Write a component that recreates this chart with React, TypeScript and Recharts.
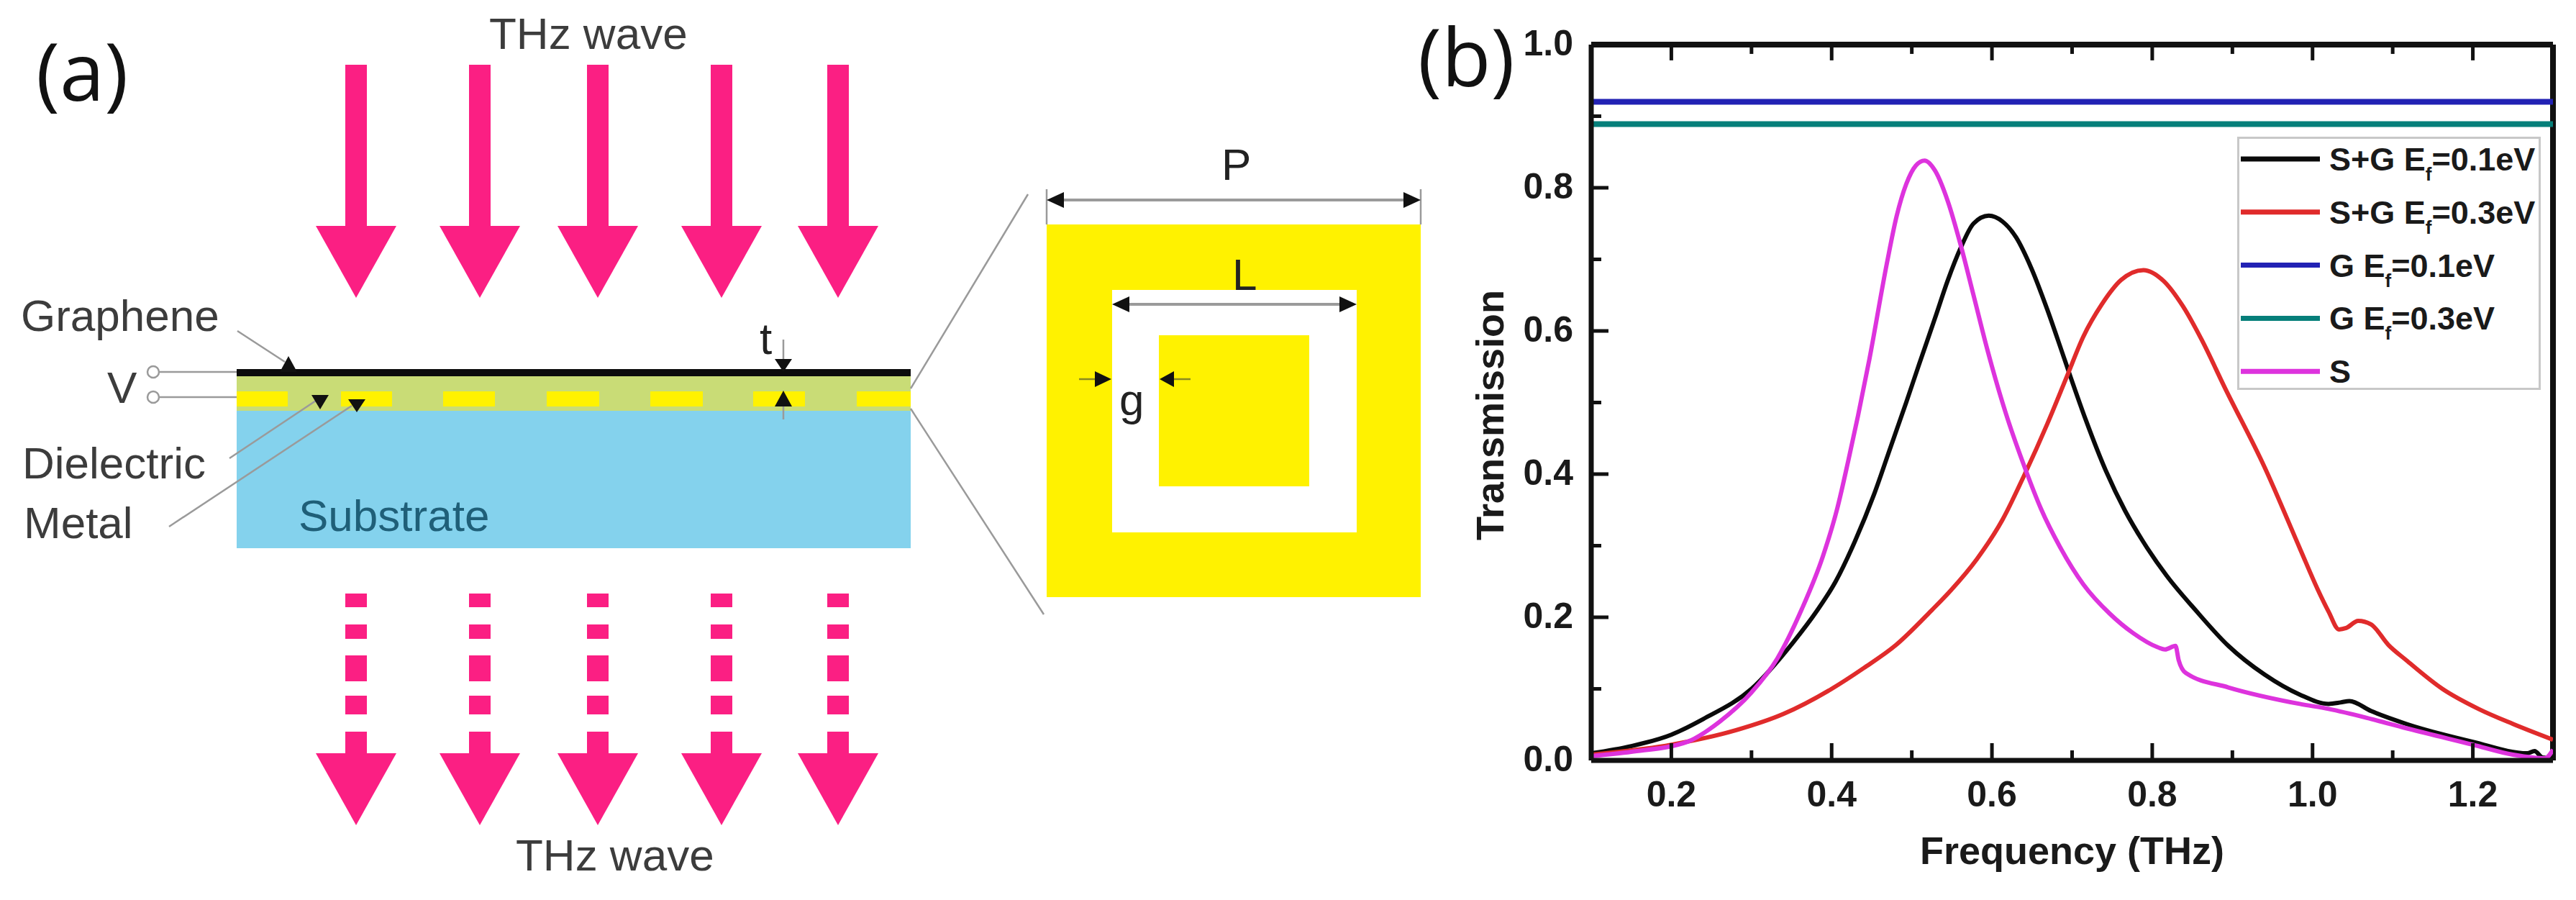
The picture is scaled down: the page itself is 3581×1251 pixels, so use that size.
import React from "react";
import { LineChart, Line, XAxis, YAxis, Legend, ReferenceLine } from "recharts";

const WIDTH = 3581;
const HEIGHT = 1251;
const FONT = '"Liberation Sans", Arial, sans-serif';

// values
const blackFreq = [0.1, 0.15, 0.2, 0.24, 0.3, 0.352, 0.381, 0.405, 0.429, 0.453, 0.473, 0.493, 0.509, 0.529, 0.545, 0.561, 0.577, 0.596, 0.613, 0.63, 0.649, 0.669, 0.687, 0.698, 0.717, 0.742, 0.766, 0.789, 0.818, 0.854, 0.895, 0.94, 0.984, 1.02, 1.035, 1.046, 1.073, 1.117, 1.2, 1.268, 1.277, 1.287, 1.3];
const blackT = [0.01, 0.02, 0.036, 0.058, 0.1, 0.165, 0.208, 0.25, 0.306, 0.372, 0.436, 0.5, 0.553, 0.618, 0.671, 0.716, 0.75, 0.761, 0.753, 0.731, 0.688, 0.63, 0.572, 0.536, 0.476, 0.405, 0.349, 0.305, 0.258, 0.21, 0.16, 0.12, 0.092, 0.079, 0.081, 0.083, 0.069, 0.051, 0.026, 0.01, 0.013, 0.004, 0.003];

const redFreq = [0.1, 0.2, 0.28, 0.34, 0.4, 0.44, 0.48, 0.525, 0.549, 0.581, 0.613, 0.641, 0.669, 0.693, 0.714, 0.737, 0.761, 0.789, 0.814, 0.838, 0.862, 0.89, 0.94, 0.985, 1.006, 1.02, 1.033, 1.042, 1.057, 1.073, 1.095, 1.117, 1.162, 1.207, 1.25, 1.3];
const redT = [0.008, 0.022, 0.042, 0.065, 0.1, 0.129, 0.161, 0.21, 0.238, 0.281, 0.336, 0.4, 0.47, 0.535, 0.592, 0.637, 0.671, 0.685, 0.67, 0.635, 0.587, 0.522, 0.41, 0.294, 0.24, 0.208, 0.183, 0.185, 0.195, 0.19, 0.161, 0.14, 0.1, 0.072, 0.051, 0.029];

const magentaFreq = [0.1, 0.15, 0.22, 0.26, 0.3, 0.332, 0.363, 0.389, 0.407, 0.421, 0.433, 0.447, 0.469, 0.481, 0.493, 0.505, 0.516, 0.529, 0.545, 0.561, 0.577, 0.594, 0.617, 0.641, 0.661, 0.685, 0.714, 0.747, 0.776, 0.807, 0.816, 0.829, 0.833, 0.842, 0.895, 0.984, 1.02, 1.073, 1.117, 1.2, 1.25, 1.275, 1.29, 1.3];
const magentaT = [0.006, 0.012, 0.026, 0.054, 0.095, 0.142, 0.212, 0.285, 0.352, 0.42, 0.482, 0.56, 0.695, 0.76, 0.805, 0.831, 0.838, 0.824, 0.781, 0.72, 0.65, 0.575, 0.486, 0.409, 0.352, 0.298, 0.246, 0.205, 0.178, 0.158, 0.155, 0.16, 0.14, 0.122, 0.102, 0.079, 0.072, 0.058, 0.045, 0.022, 0.008, 0.004, 0.003, 0.015];

const flatFreq = [0.1, 1.3];
const blueT = [0.92, 0.92];
const tealT = [0.889, 0.889];

const xTicks = [0.2, 0.3, 0.4, 0.5, 0.6, 0.7, 0.8, 0.9, 1.0, 1.1, 1.2];
const yTicks = [0, 0.1, 0.2, 0.3, 0.4, 0.5, 0.6, 0.7, 0.8, 0.9, 1.0];

const zip = (f: number[], t: number[]) => f.map((x, i) => ({ x, t: t[i] }));

const series = [
  { name: "S+G Ef=0.1eV", color: "#0a0a0a", width: 6, data: zip(blackFreq, blackT) },
  { name: "S+G Ef=0.3eV", color: "#e02b2b", width: 6, data: zip(redFreq, redT) },
  { name: "G Ef=0.1eV", color: "#2222b4", width: 8, data: zip(flatFreq, blueT) },
  { name: "G Ef=0.3eV", color: "#067f7a", width: 8, data: zip(flatFreq, tealT) },
  { name: "S", color: "#dd33dd", width: 6, data: zip(magentaFreq, magentaT) },
];

const isMajor = (v: number) => Math.round(v * 10) % 2 === 0;

function BottomTick({ x, y, payload }: any) {
  const major = isMajor(payload.value);
  return (
    <g>
      <line x1={x} x2={x} y1={y} y2={y - (major ? 24 : 14)} stroke="#111" strokeWidth={5} />
      {major && (
        <text x={x} y={y + 64} textAnchor="middle" fontFamily={FONT} fontWeight="bold" fontSize={50} fill="#1a1a1a">
          {payload.value.toFixed(1)}
        </text>
      )}
    </g>
  );
}

function LeftTick({ x, y, payload }: any) {
  const major = isMajor(payload.value);
  return (
    <g>
      <line x1={x} x2={x + (major ? 24 : 14)} y1={y} y2={y} stroke="#111" strokeWidth={5} />
      {major && (
        <text x={x - 25} y={y + 15} textAnchor="end" fontFamily={FONT} fontWeight="bold" fontSize={50} fill="#1a1a1a">
          {payload.value.toFixed(1)}
        </text>
      )}
    </g>
  );
}

function YTitle() {
  return (
    <text transform="translate(2090,577) rotate(-90)" textAnchor="middle" fontFamily={FONT} fontWeight="bold" fontSize={54} fill="#1a1a1a">
      Transmission
    </text>
  );
}

function LegendBox({ payload }: any) {
  const rowH = 73.8;
  return (
    <svg width={422} height={352} style={{ display: "block" }}>
      <rect x={1.5} y={1.5} width={419} height={349} fill="#fff" stroke="#c8c8c8" strokeWidth={3} />
      {(payload || []).map((p: any, i: number) => {
        const y = 31 + i * rowH;
        const [head, tail] = String(p.value).split("f");
        return (
          <g key={p.value}>
            <line x1={5} x2={115} y1={y} y2={y} stroke={p.color} strokeWidth={7} />
            <text x={128} y={y + 16} fontFamily={FONT} fontWeight="bold" fontSize={45} fill="#1a1a1a">
              {head}
              {tail !== undefined && (
                <>
                  <tspan fontSize={26} dy={14}>f</tspan>
                  <tspan dy={-14}>{tail}</tspan>
                </>
              )}
            </text>
          </g>
        );
      })}
    </svg>
  );
}

// schematic of panel (a), plain svg under the chart
const PINK = "#fb1f83";
const GREY = "#9a9a9a";
const TEXT = "#3c3c3c";
const arrowX = [495, 667, 831, 1003, 1165];
const dashes = [[825, 844], [868, 888], [911, 947], [967, 993], [1017, 1050]];
const metal = [[329, 400], [474, 545], [616, 688], [760, 833], [904, 977], [1047, 1119], [1191, 1266]];

function Head({ tip, base, half, fill = "#111" }: { tip: number[]; base: number[]; half: number; fill?: string }) {
  const dx = tip[0] === base[0] ? half : 0;
  const dy = tip[1] === base[1] ? half : 0;
  return <polygon points={`${tip[0]},${tip[1]} ${base[0] - dx},${base[1] - dy} ${base[0] + dx},${base[1] + dy}`} fill={fill} />;
}

function Schematic() {
  const label = { fontFamily: FONT, fontSize: 62, fill: TEXT };
  return (
    <svg width={WIDTH} height={HEIGHT} style={{ position: "absolute", left: 0, top: 0 }}>
      <text x={50} y={140} fontFamily='"Open Sans", sans-serif' fontSize={112} fill="#111">(a)</text>
      <text x={1971} y={120} fontFamily='"Open Sans", sans-serif' fontSize={112} fill="#111">(b)</text>

      <text x={680} y={68} {...label}>THz wave</text>
      <text x={717} y={1210} {...label}>THz wave</text>

      {arrowX.map((x) => (
        <g key={x} fill={PINK}>
          <rect x={x - 15} y={90} width={30} height={226} />
          <polygon points={`${x - 56},314 ${x + 56},314 ${x},414`} />
          {dashes.map(([a, b]) => (
            <rect key={a} x={x - 15} y={a} width={30} height={b - a} />
          ))}
          <polygon points={`${x - 56},1047 ${x + 56},1047 ${x},1147`} />
        </g>
      ))}

      <rect x={329} y={567} width={937} height={195} fill="#84d2ed" />
      <rect x={329} y={520} width={937} height={51} fill="#c9dc76" />
      {metal.map(([a, b]) => (
        <rect key={a} x={a} y={544} width={b - a} height={21} fill="#fff200" />
      ))}
      <rect x={329} y={513} width={937} height={10} fill="#0c0c0c" />

      <text x={29} y={460} {...label}>Graphene</text>
      <text x={149} y={560} {...label}>V</text>
      <text x={31} y={665} {...label}>Dielectric</text>
      <text x={33} y={748} {...label}>Metal</text>
      <text x={415} y={738} {...label} fill="#1f5f78">Substrate</text>
      <text x={1056} y={492} {...label} fill="#222">t</text>

      <g stroke={GREY} strokeWidth={2.5} fill="none">
        <circle cx={213} cy={517} r={8} />
        <circle cx={213} cy={552} r={8} />
        <line x1={221} y1={517} x2={329} y2={517} />
        <line x1={221} y1={552} x2={329} y2={552} />
        <line x1={330} y1={460} x2={396} y2={503} />
        <line x1={319} y1={637} x2={439} y2={557} />
        <line x1={235} y1={732} x2={489} y2={564} />
        <line x1={1089} y1={472} x2={1089} y2={500} />
        <line x1={1089} y1={565} x2={1089} y2={583} />
        <line x1={1266} y1={540} x2={1429} y2={270} />
        <line x1={1266} y1={568} x2={1451} y2={854} />
        <line x1={1455} y1={263} x2={1455} y2={312} />
        <line x1={1975} y1={263} x2={1975} y2={312} />
        <line x1={1460} y1={278} x2={1970} y2={278} strokeWidth={4} />
      </g>
      <Head tip={[401, 495]} base={[401, 517]} half={12} />
      <Head tip={[445, 569]} base={[445, 549]} half={12} />
      <Head tip={[496, 573]} base={[496, 555]} half={12} />
      <Head tip={[1089, 517]} base={[1089, 499]} half={12} />
      <Head tip={[1089, 543]} base={[1089, 565]} half={12} />

      <rect x={1455} y={312} width={520} height={518} fill="#fff200" />
      <rect x={1546} y={403} width={340} height={337} fill="#fff" />
      <rect x={1611} y={466} width={209} height={210} fill="#fff200" />
      <text x={1698} y={250} {...label} fill="#222">P</text>
      <text x={1713} y={403} {...label} fill="#222">L</text>
      <text x={1556} y={577} {...label} fill="#222">g</text>

      <Head tip={[1455, 278]} base={[1479, 278]} half={11} />
      <Head tip={[1975, 278]} base={[1951, 278]} half={11} />
      <line x1={1550} y1={423} x2={1882} y2={423} stroke={GREY} strokeWidth={4} />
      <Head tip={[1546, 423]} base={[1570, 423]} half={11} />
      <Head tip={[1886, 423]} base={[1862, 423]} half={11} />
      <line x1={1500} y1={527} x2={1530} y2={527} stroke="#8a8a20" strokeWidth={2.5} />
      <line x1={1625} y1={527} x2={1655} y2={527} stroke="#8a8a20" strokeWidth={2.5} />
      <Head tip={[1545, 527]} base={[1522, 527]} half={11} />
      <Head tip={[1612, 527]} base={[1632, 527]} half={11} />
    </svg>
  );
}

export default function App() {
  const titleStyle = { fontFamily: FONT, fontWeight: "bold", fontSize: 54, fill: "#1a1a1a" };
  return (
    <div style={{ position: "absolute", left: 0, top: 0, width: WIDTH, height: HEIGHT, background: "#fff", overflow: "hidden" }}>
      <Schematic />
      <div style={{ position: "absolute", left: 0, top: 0 }}>
        <LineChart width={WIDTH} height={HEIGHT} margin={{ top: 62, right: 32, bottom: 94, left: 2112 }} style={{ background: "transparent" }}>
          <XAxis
            type="number"
            dataKey="x"
            domain={[0.1, 1.3]}
            allowDataOverflow
            ticks={xTicks}
            interval={0}
            height={100}
            tickSize={0}
            tickMargin={0}
            tick={BottomTick}
            tickLine={false}
            axisLine={{ stroke: "#111", strokeWidth: 7 }}
            label={{ value: "Frequency (THz)", position: "bottom", offset: 6, style: titleStyle }}
          />
          <YAxis
            type="number"
            domain={[0, 1]}
            allowDataOverflow
            ticks={yTicks}
            interval={0}
            width={100}
            tickSize={0}
            tickMargin={0}
            tick={LeftTick}
            tickLine={false}
            axisLine={{ stroke: "#111", strokeWidth: 7 }}
            label={{ value: "Transmission", content: YTitle }}
          />
          {/* top and right edges of the frame, with the top's inward ticks */}
          <ReferenceLine y={1} stroke="#111" strokeWidth={8} ifOverflow="visible" />
          <ReferenceLine x={1.3} stroke="#111" strokeWidth={8} ifOverflow="visible" />
          {xTicks.map((t) => (
            <ReferenceLine
              key={t}
              ifOverflow="visible"
              stroke="#111"
              strokeWidth={5}
              segment={[{ x: t, y: 1 }, { x: t, y: isMajor(t) ? 0.978 : 0.987 }]}
            />
          ))}
          {series.map((s) => (
            <Line
              key={s.name}
              data={s.data}
              dataKey="t"
              name={s.name}
              type="monotone"
              stroke={s.color}
              strokeWidth={s.width}
              dot={false}
              activeDot={false}
              isAnimationActive={false}
            />
          ))}
          <Legend
            layout="horizontal"
            align="center"
            verticalAlign="middle"
            itemSorter={null}
            content={LegendBox}
            wrapperStyle={{ position: "absolute", left: 3110, top: 190, width: 422, height: 352, margin: 0 }}
          />
        </LineChart>
      </div>
    </div>
  );
}
